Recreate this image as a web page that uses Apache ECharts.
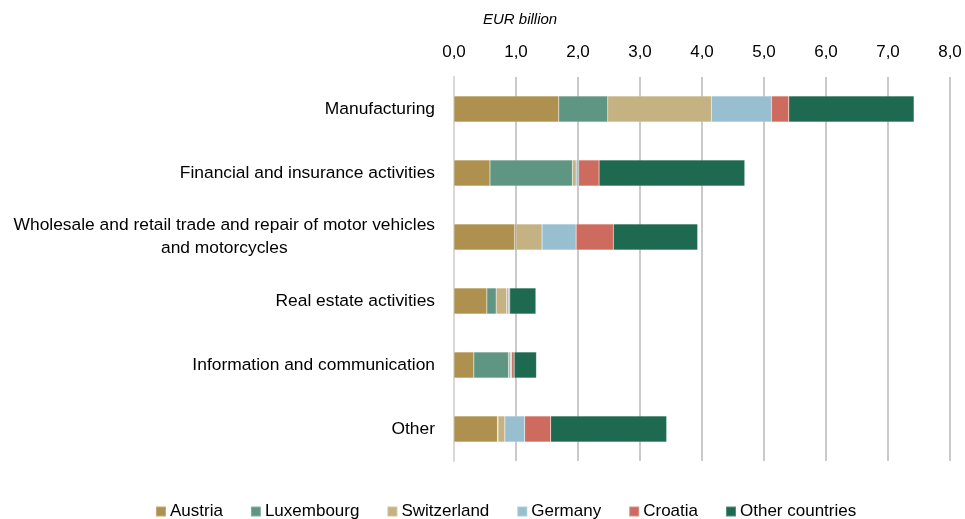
<!DOCTYPE html>
<html><head><meta charset="utf-8">
<script src="https://cdn.jsdelivr.net/npm/echarts@6/dist/echarts.min.js"></script>
<style>html,body{margin:0;padding:0;background:#fff}#c{width:965px;height:519px}</style>
</head><body><div id="c"></div>
<script>
const categories = ['Manufacturing','Financial and insurance activities','Wholesale and retail trade and repair of motor vehicles\nand motorcycles','Real estate activities','Information and communication','Other'];
const austria = [1.69, 0.58, 0.98, 0.53, 0.32, 0.70];
const luxembourg = [0.79, 1.33, 0.02, 0.15, 0.56, 0.01];
const switzerland = [1.67, 0.06, 0.42, 0.17, 0.03, 0.11];
const germany = [0.97, 0.04, 0.55, 0.03, 0.02, 0.32];
const croatia = [0.28, 0.33, 0.60, 0.02, 0.04, 0.42];
const otherCountries = [2.02, 2.35, 1.36, 0.42, 0.36, 1.87];
const seriesNames = ['Austria','Luxembourg','Switzerland','Germany','Croatia','Other countries'];
const colors = ['#ae914e','#5f9683','#c5b282','#97bfcf','#cc6b5e','#1d6a51'];
const allData = [austria, luxembourg, switzerland, germany, croatia, otherCountries];

const font = '"Liberation Sans", Arial, sans-serif';
const chart = echarts.init(document.getElementById('c'));
chart.setOption({
  animation: false,
  color: colors,
  textStyle: {fontFamily: font},
  grid: {left: 454, right: 15, top: 77, bottom: 58, containLabel: false},
  graphic: [{type: 'text', left: 483, top: 12, style: {text: 'EUR billion', font: 'italic 15px ' + font, fill: '#000'}}],
  legend: {
    top: 503, left: 155, padding: 0, itemWidth: 10, itemHeight: 10, itemGap: 27, icon: 'rect',
    textStyle: {fontSize: 17, color: '#000', fontFamily: font, padding: [0,0,0,-1]},
    data: seriesNames
  },
  xAxis: {
    type: 'value', position: 'top', min: 0, max: 8, interval: 1,
    axisLine: {show: false}, axisTick: {show: false},
    axisLabel: {fontSize: 17, color: '#000', fontFamily: font, margin: 16, formatter: v => v.toFixed(1).replace('.', ',')},
    splitLine: {lineStyle: {color: '#b8b8b8', width: 1.5}}
  },
  yAxis: {
    type: 'category', inverse: true, data: categories,
    axisLine: {show: true, lineStyle: {color: '#d9d9d9', width: 2}},
    axisTick: {show: false},
    axisLabel: {
      margin: 19, color: '#000', fontSize: 17.4, lineHeight: 23, fontFamily: font,
      formatter: v => v.split('\n').map(s => '{c|' + s + '}').join('\n'),
      rich: {c: {align: 'center', fontSize: 17.4, color: '#000', fontFamily: font, lineHeight: 23}}
    }
  },
  series: seriesNames.map((n, i) => ({
    name: n, type: 'bar', stack: 'total', barWidth: 26, data: allData[i],
    itemStyle: {color: colors[i], borderColor: 'rgba(255,255,255,0.25)', borderWidth: 0.5}
  }))
});
</script></body></html>
